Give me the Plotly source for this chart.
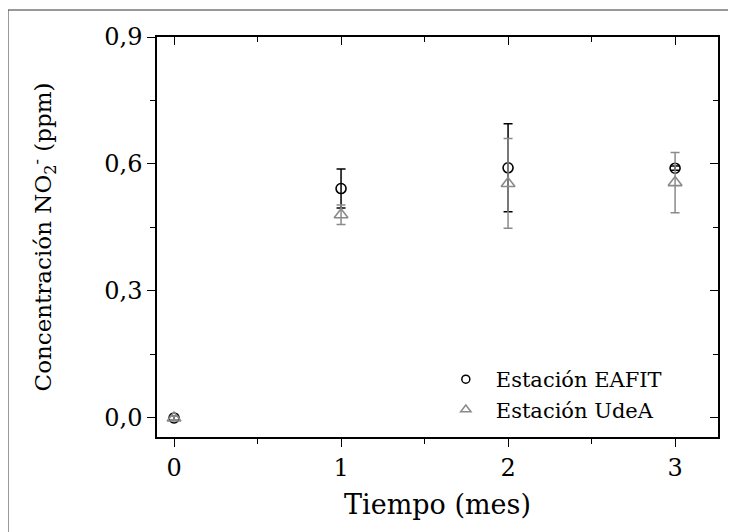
import plotly.graph_objects as go

# Data
tiempo = [0, 1, 2, 3]
eafit = [0.0, 0.542, 0.591, 0.590]
eafit_err = [0.004, 0.046, 0.104, 0.005]
udea = [0.0, 0.480, 0.554, 0.556]
udea_err = [0.004, 0.023, 0.106, 0.071]
x_ticks = [0, 1, 2, 3]
y_ticks = [0.0, 0.3, 0.6, 0.9]
names = ["Estación EAFIT", "Estación UdeA"]

FONT = "DejaVu Serif"
GRAY = "#8a8a8a"

fig = go.Figure()

fig.add_trace(go.Scatter(
    x=tiempo, y=eafit, mode="markers", showlegend=False,
    marker=dict(symbol="circle-open", size=10, color="black", line=dict(width=1.6, color="black")),
    error_y=dict(type="data", array=eafit_err, visible=True, color="black", thickness=1.5, width=4.5),
))
fig.add_trace(go.Scatter(
    x=tiempo, y=udea, mode="markers", showlegend=False,
    marker=dict(symbol="triangle-up-open", size=12, color=GRAY, line=dict(width=1.6, color=GRAY)),
    error_y=dict(type="data", array=udea_err, visible=True, color=GRAY, thickness=1.5, width=4.5),
))

# Legend entries (smaller symbols as in the reference)
fig.add_trace(go.Scatter(
    x=[None], y=[None], mode="markers", name=names[0],
    marker=dict(symbol="circle-open", size=8, color="black", line=dict(width=1.5, color="black")),
))
fig.add_trace(go.Scatter(
    x=[None], y=[None], mode="markers", name=names[1],
    marker=dict(symbol="triangle-up-open", size=9, color=GRAY, line=dict(width=1.5, color=GRAY)),
))

# Invisible trace to activate mirrored axes with inward ticks
fig.add_trace(go.Scatter(x=[None], y=[None], xaxis="x2", yaxis="y2", showlegend=False, hoverinfo="skip"))

xr = [-0.102, 3.257]
yr = [-0.045, 0.9]

fig.update_layout(
    width=736, height=532,
    margin=dict(l=149, r=26, t=29, b=103),
    paper_bgcolor="white", plot_bgcolor="white",
    separators=", ",
    font=dict(family=FONT, color="black", size=22),
    xaxis=dict(
        range=xr, tickvals=x_ticks, ticks="outside", ticklen=8, tickwidth=1.3, tickcolor="black",
        minor=dict(dtick=0.5, tick0=0, ticks="outside", ticklen=5, tickwidth=1.3, tickcolor="black"),
        showline=True, linecolor="black", linewidth=1.5, showgrid=False, zeroline=False,
        tickfont=dict(size=24, family=FONT),
        title=dict(text="Tiempo (mes)", font=dict(size=27, family=FONT), standoff=15),
    ),
    yaxis=dict(
        range=yr, tickvals=y_ticks, tickformat=".1f", ticks="outside", ticklen=8, tickwidth=1.3, tickcolor="black",
        minor=dict(dtick=0.15, tick0=0, ticks="outside", ticklen=5, tickwidth=1.3, tickcolor="black"),
        showline=True, linecolor="black", linewidth=1.5, showgrid=False, zeroline=False,
        tickfont=dict(size=24, family=FONT),
        title=dict(text="Concentración NO<sub>2</sub><sup>-</sup> (ppm)", font=dict(size=23, family=FONT), standoff=46),
    ),
    xaxis2=dict(
        range=xr, overlaying="x", side="top", anchor="y2", tickvals=x_ticks, ticks="inside", ticklen=8,
        tickwidth=1.3, tickcolor="black", showticklabels=False,
        minor=dict(dtick=0.5, tick0=0, ticks="inside", ticklen=5, tickwidth=1.3, tickcolor="black"),
        showline=True, linecolor="black", linewidth=1.5, showgrid=False, zeroline=False,
    ),
    yaxis2=dict(
        range=yr, overlaying="y", side="right", anchor="x2", tickvals=y_ticks, ticks="inside", ticklen=8,
        tickwidth=1.3, tickcolor="black", showticklabels=False,
        minor=dict(dtick=0.15, tick0=0, ticks="inside", ticklen=5, tickwidth=1.3, tickcolor="black"),
        showline=True, linecolor="black", linewidth=1.5, showgrid=False, zeroline=False,
    ),
    legend=dict(
        x=0.497, y=0.195, xanchor="left", yanchor="top",
        bgcolor="rgba(0,0,0,0)", font=dict(size=21, family=FONT),
        tracegroupgap=0, itemwidth=50,
    ),
    shapes=[dict(
        type="rect", xref="paper", yref="paper",
        x0=-0.2656, x1=2.0, y0=-2.0, y1=1.0675,
        line=dict(color="#333333", width=1), fillcolor="rgba(0,0,0,0)", layer="below",
    )],
)

fig.write_html("out.html")
